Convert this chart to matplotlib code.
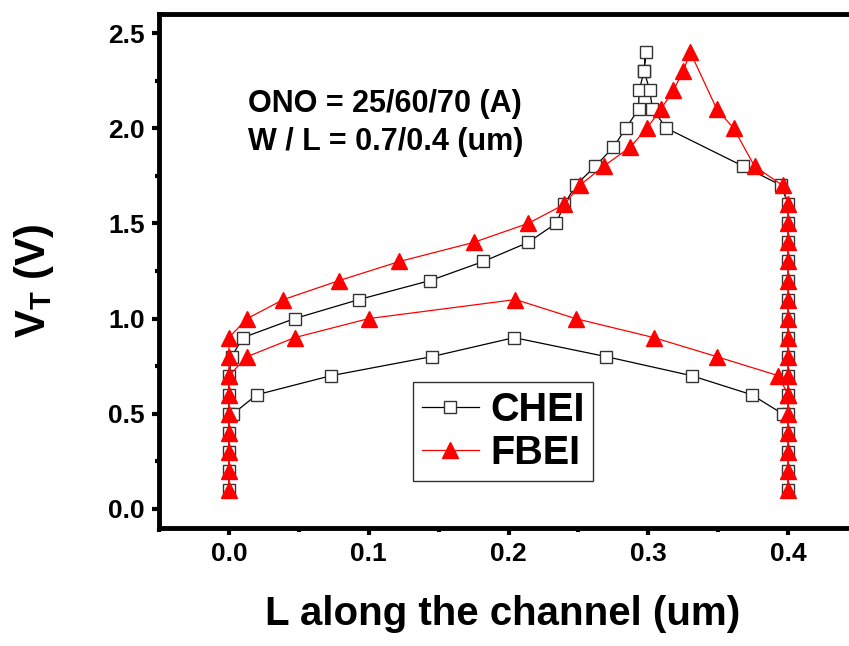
import matplotlib
matplotlib.use("Agg")
import matplotlib.pyplot as plt
from matplotlib.ticker import MultipleLocator

plt.rcParams['font.family'] = ['Liberation Sans', 'DejaVu Sans']
plt.rcParams['font.weight'] = 'bold'
plt.rcParams['mathtext.fontset'] = 'custom'
plt.rcParams['mathtext.bf'] = 'Liberation Sans:bold'
plt.rcParams['mathtext.rm'] = 'Liberation Sans:bold'

# CHEI, upper loop (left column, upper arc, right column)
chei_up_x = [0, 0, 0, 0, 0, 0, 0, 0.002, 0.01, 0.047, 0.093, 0.144, 0.182,
             0.214, 0.234, 0.24, 0.248, 0.262, 0.275, 0.284, 0.293, 0.2935,
             0.297, 0.298, 0.297, 0.301, 0.303, 0.313, 0.368, 0.395,
             0.4, 0.4, 0.4, 0.4, 0.4, 0.4, 0.4, 0.4, 0.4, 0.4, 0.4, 0.4,
             0.4, 0.4, 0.4, 0.4]
chei_up_y = [0.1, 0.2, 0.3, 0.4, 0.5, 0.6, 0.7, 0.8, 0.9, 1.0, 1.1, 1.2, 1.3,
             1.4, 1.5, 1.6, 1.7, 1.8, 1.9, 2.0, 2.1, 2.2,
             2.3, 2.4, 2.3, 2.2, 2.1, 2.0, 1.8, 1.7,
             1.6, 1.5, 1.4, 1.3, 1.2, 1.1, 1.0, 0.9, 0.8, 0.7, 0.6, 0.5,
             0.4, 0.3, 0.2, 0.1]
# CHEI, lower arc
chei_lo_x = [0.003, 0.02, 0.073, 0.145, 0.204, 0.27, 0.331, 0.374, 0.396]
chei_lo_y = [0.5, 0.6, 0.7, 0.8, 0.9, 0.8, 0.7, 0.6, 0.5]

# FBEI, upper loop
fbei_up_x = [0, 0, 0, 0, 0, 0, 0, 0, 0, 0.013, 0.039, 0.079, 0.122, 0.175,
             0.214, 0.24, 0.251, 0.268, 0.287, 0.299, 0.309, 0.318, 0.325,
             0.330, 0.349, 0.361, 0.376, 0.396,
             0.4, 0.4, 0.4, 0.4, 0.4, 0.4, 0.4, 0.4, 0.4, 0.4, 0.4, 0.4,
             0.4, 0.4, 0.4, 0.4]
fbei_up_y = [0.1, 0.2, 0.3, 0.4, 0.5, 0.6, 0.7, 0.8, 0.9, 1.0, 1.1, 1.2, 1.3, 1.4,
             1.5, 1.6, 1.7, 1.8, 1.9, 2.0, 2.1, 2.2, 2.3,
             2.4, 2.1, 2.0, 1.8, 1.7,
             1.6, 1.5, 1.4, 1.3, 1.2, 1.1, 1.0, 0.9, 0.8, 0.7, 0.6, 0.5,
             0.4, 0.3, 0.2, 0.1]
# FBEI, lower arc
fbei_lo_x = [0, 0.013, 0.047, 0.1, 0.205, 0.248, 0.304, 0.349, 0.393, 0.4]
fbei_lo_y = [0.7, 0.8, 0.9, 1.0, 1.1, 1.0, 0.9, 0.8, 0.7, 0.6]

xticks = [0.0, 0.1, 0.2, 0.3, 0.4]
yticks = [0.0, 0.5, 1.0, 1.5, 2.0, 2.5]

fig = plt.figure(figsize=(8.49, 6.46), dpi=100)
ax = fig.add_axes([159 / 849, 118 / 646, 699 / 849, 514 / 646])

sq = dict(color='black', lw=0.9, marker='s', markersize=8.5,
          markerfacecolor='white', markeredgecolor='#333333', markeredgewidth=1.0)
tri = dict(color='red', lw=0.9, marker='^', markersize=11.5,
           markerfacecolor='red', markeredgecolor='red')

ax.plot(chei_up_x, chei_up_y, label='CHEI', **sq)
ax.plot(chei_lo_x, chei_lo_y, **sq)
ax.plot(fbei_up_x, fbei_up_y, label='FBEI', **tri)
ax.plot(fbei_lo_x, fbei_lo_y, **tri)

ax.set_xlim(-0.05, 0.45)
ax.set_ylim(-0.1, 2.6)
ax.xaxis.set_minor_locator(MultipleLocator(0.05))
ax.yaxis.set_minor_locator(MultipleLocator(0.25))
ax.set_xticks(xticks)
ax.set_xticklabels(['%.1f' % v for v in xticks])
ax.set_yticks(yticks)
ax.set_yticklabels(['%.1f' % v for v in yticks])

ax.spines['right'].set_visible(False)
for s in ['left', 'top', 'bottom']:
    ax.spines[s].set_linewidth(3.5)
ax.tick_params(which='major', direction='out', length=5, width=3, labelsize=19, pad=5)
ax.tick_params(which='minor', direction='out', length=3, width=3)
ax.tick_params(top=False, right=False)
for lab in ax.get_xticklabels() + ax.get_yticklabels():
    lab.set_fontweight('bold')

fig.text(503 / 849, 1 - 614 / 646, 'L along the channel (um)', ha='center', va='center',
         fontsize=29, fontweight='bold')
fig.text(34 / 849, 1 - 281 / 646, r'$\mathbf{V_T}$ (V)', ha='center', va='center',
         rotation=90, fontsize=30, fontweight='bold')

fig.text(248 / 849, 1 - 104 / 646, 'ONO = 25/60/70 (A)', ha='left', va='center',
         fontsize=22, fontweight='bold')
fig.text(248 / 849, 1 - 142 / 646, 'W / L = 0.7/0.4 (um)', ha='left', va='center',
         fontsize=22, fontweight='bold')

leg = ax.legend(loc='upper left', bbox_to_anchor=(413 / 849, 1 - 382 / 646),
                bbox_transform=fig.transFigure, borderaxespad=0,
                prop={'size': 28.5, 'weight': 'bold'}, handlelength=1.45,
                handletextpad=0.28, labelspacing=0.14, borderpad=0.22,
                frameon=True, fancybox=False)
leg.get_frame().set_edgecolor('black')
leg.get_frame().set_linewidth(1.0)

fig.savefig('out.png', dpi=100)
